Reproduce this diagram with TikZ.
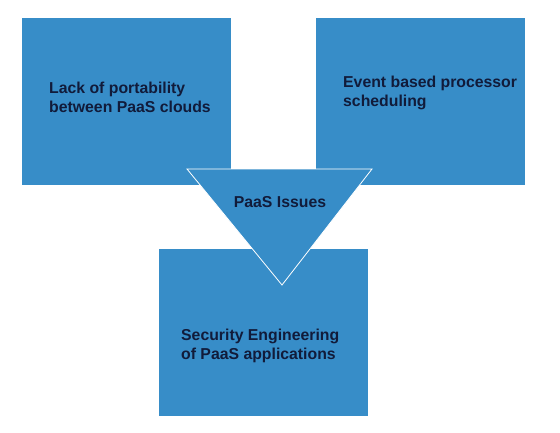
\documentclass[tikz,border=0pt]{standalone}
\usepackage{fontspec}
\setmainfont{Liberation Sans}
\usepackage{tikz}
\usetikzlibrary{positioning,calc}

\definecolor{issueblue}{HTML}{378DC8}
\definecolor{issuetext}{HTML}{111B3A}

\tikzset{
  issuebox/.style={fill=issueblue, draw=none, minimum width=209pt, minimum height=167pt, inner sep=0pt},
  issuetxt/.style={font=\fontsize{15.8}{19}\selectfont\bfseries, text=issuetext, align=left, inner sep=0pt, anchor=north west},
  issuetri/.style={fill=issueblue, draw=white, line width=0.8pt}
}

\begin{document}
\begin{tikzpicture}[x=1pt, y=1pt]
\useasboundingbox (0,0) rectangle (560,-432);

% three issue boxes
\node[issuebox] (lack) at (126.5,-101.5) {};
\node[issuebox] (event) at (420.5,-101) {};
\node[issuebox] (secure) at (263.5,-332.5) {};

\node[issuetxt] (lacktxt) at (49,-82) {Lack of portability\\between PaaS clouds};
\node[issuetxt] (eventtxt) at (343,-76) {Event based processor\\scheduling};
\node[issuetxt] (securetxt) at (181,-329) {Security Engineering\\of PaaS applications};

% centre triangle
\coordinate (tl) at (187,-169);
\coordinate (tr) at (372,-169);
\coordinate (tb) at (282,-285);
\draw[issuetri] (tl) -- (tr) -- (tb) -- cycle;
\node[issuetxt, anchor=north] (paas) at (280,-196) {PaaS Issues};

\end{tikzpicture}
\end{document}
